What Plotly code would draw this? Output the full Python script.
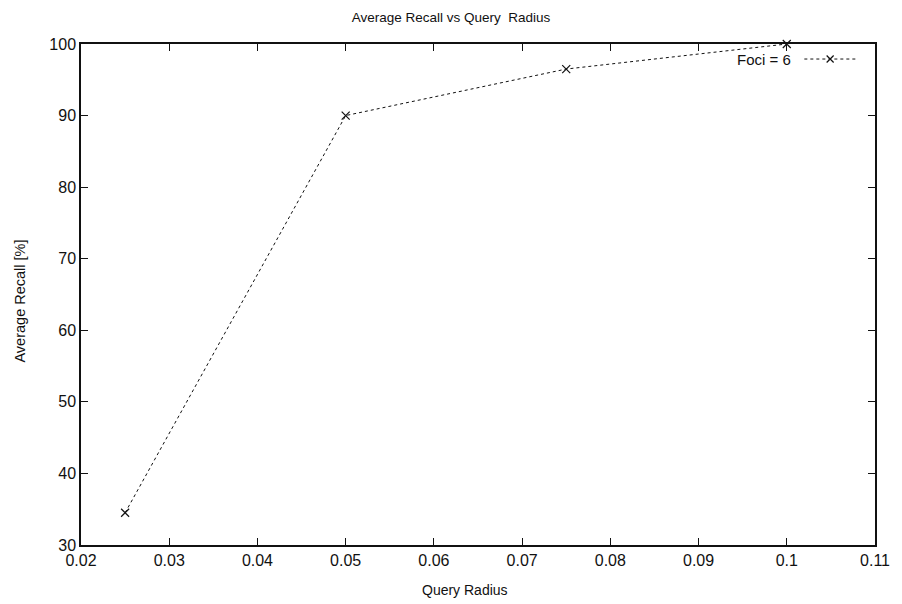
import plotly.graph_objects as go

# Average recall measured at each query radius (Foci = 6)
query_radius = [0.025, 0.05, 0.075, 0.1]
avg_recall = [34.5, 90.0, 96.5, 100.0]
series_name = "Foci = 6"

x_ticks = [0.02, 0.03, 0.04, 0.05, 0.06, 0.07, 0.08, 0.09, 0.1, 0.11]
x_tick_text = ["0.02", "0.03", "0.04", "0.05", "0.06", "0.07", "0.08", "0.09", "0.1", "0.11"]
y_ticks = [30, 40, 50, 60, 70, 80, 90, 100]

FONT = "Liberation Sans, Arial, Helvetica, sans-serif"
INK = "#111111"

W, H = 902, 604
M_L, M_R, M_T, M_B = 81, 20, 44, 59

fig = go.Figure()

fig.add_trace(go.Scatter(
    x=query_radius, y=avg_recall, mode="lines+markers", name=series_name,
    line=dict(color=INK, width=1, dash="3px,3px"),
    marker=dict(symbol="x-thin-open", size=8, color=INK, line=dict(color=INK, width=1.2)),
    showlegend=False, cliponaxis=False,
))

# Key sample (line + marker) drawn on an overlay axis in plot fractions
KEY_Y = 0.970
fig.add_trace(go.Scatter(
    x=[0.911, 0.976], y=[KEY_Y, KEY_Y], mode="lines", xaxis="x2", yaxis="y2",
    line=dict(color=INK, width=1, dash="3px,3px"), showlegend=False, hoverinfo="skip",
))
fig.add_trace(go.Scatter(
    x=[0.9435], y=[KEY_Y], mode="markers", xaxis="x2", yaxis="y2",
    marker=dict(symbol="x-thin-open", size=7, color=INK, line=dict(color=INK, width=1.2)),
    showlegend=False, hoverinfo="skip",
))

fig.add_annotation(
    text=series_name, xref="paper", yref="paper", x=0.897, y=KEY_Y,
    xanchor="right", yanchor="middle", showarrow=False,
    font=dict(family=FONT, size=15, color=INK),
)

# Axis titles
fig.add_annotation(
    text="Query Radius", xref="paper", yref="paper",
    x=(468 - M_L) / (W - M_L - M_R), y=-(590 - (H - M_B)) / (H - M_T - M_B),
    xanchor="center", yanchor="middle", showarrow=False,
    font=dict(family=FONT, size=14, color=INK),
)
fig.add_annotation(
    text="Average Recall [%]", xref="paper", yref="paper",
    x=-(M_L - 19) / (W - M_L - M_R), y=((H - M_B) - 301) / (H - M_T - M_B),
    xanchor="center", yanchor="middle", textangle=-90, showarrow=False,
    font=dict(family=FONT, size=14.5, color=INK),
)

axis_common = dict(
    showgrid=False, zeroline=False, showline=True, linecolor=INK, linewidth=1.5,
    mirror="allticks", ticks="inside", ticklen=7, tickwidth=1, tickcolor=INK,
    tickfont=dict(family=FONT, size=16, color=INK),
)

fig.update_layout(
    width=W, height=H,
    margin=dict(l=M_L, r=M_R, t=M_T, b=M_B),
    paper_bgcolor="white", plot_bgcolor="white",
    title=dict(text="Average Recall vs Query  Radius", x=0.5, xanchor="center",
               y=1 - 17 / H, yanchor="middle",
               font=dict(family=FONT, size=13.5, color=INK)),
    xaxis=dict(range=[0.02, 0.11], tickvals=x_ticks, ticktext=x_tick_text, **axis_common),
    yaxis=dict(range=[30, 100], tickvals=y_ticks, **axis_common),
    xaxis2=dict(overlaying="x", range=[0, 1], visible=False, fixedrange=True),
    yaxis2=dict(overlaying="y", range=[0, 1], visible=False, fixedrange=True),
)

fig.write_html("out.html")
